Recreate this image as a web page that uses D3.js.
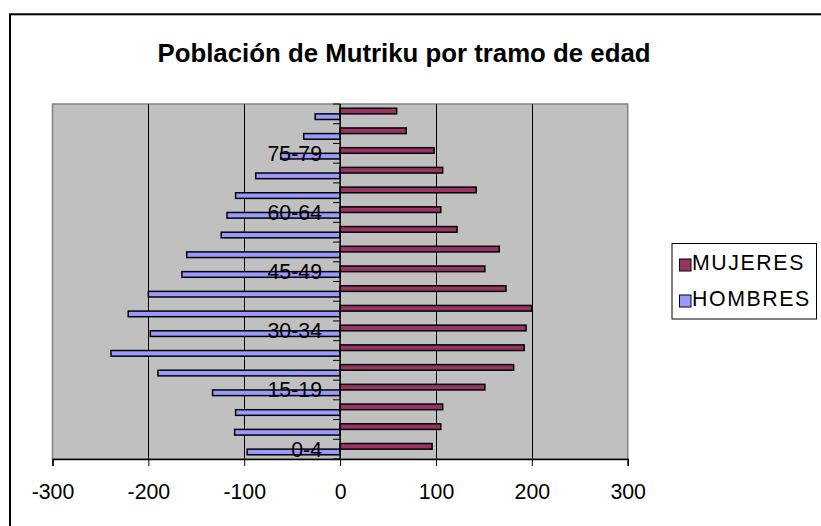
<!DOCTYPE html>
<html><head><meta charset="utf-8">
<script src="https://cdn.jsdelivr.net/npm/d3@7"></script>
<style>
html,body{margin:0;padding:0;background:#fff;}
svg{display:block;font-family:Arial,"Liberation Sans",sans-serif;}
</style></head>
<body>
<svg id="chart" width="821" height="526"></svg>
<script>
const categories = ["0-4","5-9","10-14","15-19","20-24","25-29","30-34","35-39","40-44","45-49","50-54","55-59","60-64","65-69","70-74","75-79","80-84","85+"];
const mujeres = [96,105,107,151,181,192,194,200,173,151,166,122,105,142,107,98,69,59];
const hombres = [-97,-110,-109,-133,-190,-239,-198,-221,-200,-165,-160,-124,-118,-109,-88,-62,-38,-26];
const xTicks = [-300,-200,-100,0,100,200,300];
const gridValues = [-200,-100,100,200];
const shownLabels = ["0-4","15-19","30-34","45-49","60-64","75-79"];
const seriesNames = ["MUJERES","HOMBRES"];
const seriesColors = ["#993366","#9999FF"];
const title = "Población de Mutriku por tramo de edad";

const svg = d3.select("#chart");
const plot = {left:52.5, right:627.7, top:104, bottom:459};

// outer chart border
svg.append("rect").attr("x",10).attr("y",14.3).attr("width",830).attr("height",540)
  .attr("fill","none").attr("stroke","#000").attr("stroke-width",2);

const x = d3.scaleLinear().domain([-300,300]).range([plot.left, plot.right]);
const y = d3.scaleBand().domain(categories).range([plot.bottom, plot.top]).paddingInner(0).paddingOuter(0);
const bw = y.bandwidth();
const bh = bw/3.5;

// plot area
svg.append("rect").attr("x",plot.left).attr("y",plot.top)
  .attr("width",plot.right-plot.left).attr("height",plot.bottom-plot.top)
  .attr("fill","#C0C0C0").attr("stroke","#808080").attr("stroke-width",1.5);

// gridlines
svg.append("g").selectAll("line").data(gridValues).join("line")
  .attr("x1",d=>Math.round(x(d))+0.5).attr("x2",d=>Math.round(x(d))+0.5)
  .attr("y1",plot.top).attr("y2",plot.bottom)
  .attr("stroke","#000").attr("stroke-width",1);

// bars
const data = categories.map((c,i)=>({c, m:mujeres[i], h:hombres[i]}));
svg.append("g").selectAll("rect").data(data).join("rect")
  .attr("x",x(0)).attr("y",d=>y(d.c)+0.75*bh)
  .attr("width",d=>x(d.m)-x(0)).attr("height",bh)
  .attr("fill",seriesColors[0]).attr("stroke","#000").attr("stroke-width",1.5);
svg.append("g").selectAll("rect").data(data).join("rect")
  .attr("x",d=>x(d.h)).attr("y",d=>y(d.c)+1.75*bh)
  .attr("width",d=>x(0)-x(d.h)).attr("height",bh)
  .attr("fill",seriesColors[1]).attr("stroke","#000").attr("stroke-width",1.5);

// vertical category axis at zero
const x0 = x(0);
svg.append("line").attr("x1",x0).attr("x2",x0).attr("y1",plot.top).attr("y2",plot.bottom)
  .attr("stroke","#000").attr("stroke-width",1.5);
const bounds = categories.map(c=>y(c)).concat([plot.bottom]);
svg.append("g").selectAll("line").data(bounds).join("line")
  .attr("x1",x0-7).attr("x2",x0).attr("y1",d=>d).attr("y2",d=>d)
  .attr("stroke","#000").attr("stroke-width",1);
svg.append("g").selectAll("text").data(shownLabels).join("text")
  .attr("x",322).attr("y",d=>y(d)+bw/2+7.5)
  .attr("text-anchor","end").attr("font-size",21.3).attr("fill","#000")
  .text(d=>d);

// x axis
const xAxis = d3.axisBottom(x).tickValues(xTicks).tickSize(7).tickPadding(18).tickFormat(d3.format("d"));
const gx = svg.append("g").attr("transform",`translate(0,${plot.bottom})`).call(xAxis);
gx.select(".domain").attr("stroke","#000").attr("stroke-width",1.5);
gx.selectAll(".tick line").attr("stroke","#000");
gx.selectAll(".tick text").attr("font-size",21.3).attr("font-family","Arial, 'Liberation Sans', sans-serif").attr("fill","#000")
  .text(d=>d<0?"-"+Math.abs(d):String(d));

// title
svg.append("text").attr("x",404).attr("y",62).attr("text-anchor","middle")
  .attr("font-size",25.8).attr("font-weight","bold").attr("fill","#000").text(title);

// legend
const lg = svg.append("g");
lg.append("rect").attr("x",672).attr("y",243.5).attr("width",144.5).attr("height",75.5)
  .attr("fill","#fff").attr("stroke","#000").attr("stroke-width",1);
const rows = [{y:259},{y:295}];
seriesNames.forEach((n,i)=>{
  lg.append("rect").attr("x",679.5).attr("y",rows[i].y).attr("width",11.5).attr("height",12)
    .attr("fill",seriesColors[i]).attr("stroke","#000").attr("stroke-width",1);
  lg.append("text").attr("x",692).attr("y",rows[i].y+11).attr("font-size",21.3)
    .attr("letter-spacing",1.6).attr("fill","#000").text(n);
});
</script>
</body></html>
